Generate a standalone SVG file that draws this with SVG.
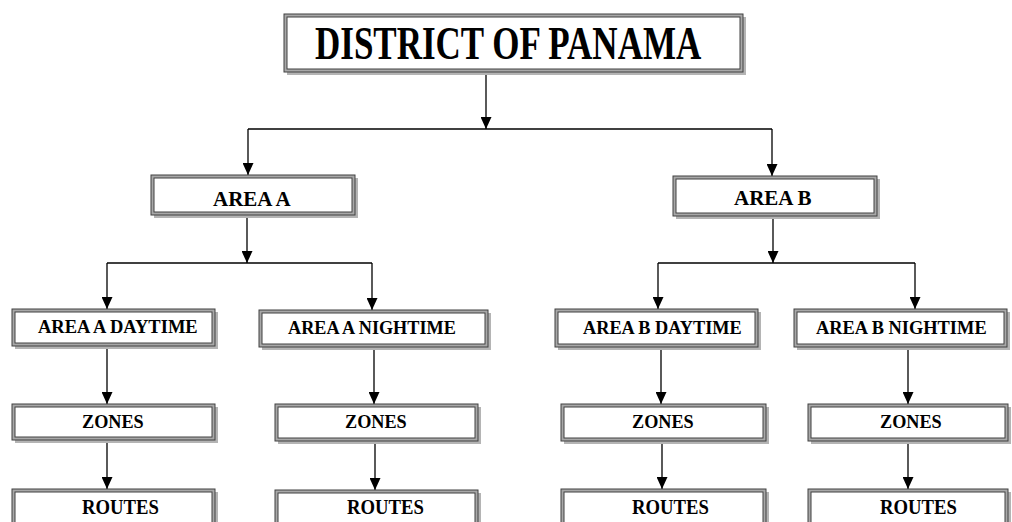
<svg xmlns="http://www.w3.org/2000/svg" width="1012" height="522" viewBox="0 0 1012 522">
<defs>
<style>
.sh{fill:#b4b4b4}
.fr{fill:#a8a8a8;stroke:#404040;stroke-width:1}
.in{fill:#ffffff;stroke:#404040;stroke-width:1}
.t{font-family:"Liberation Serif","Times New Roman",serif;font-weight:bold;fill:#000}
.c{fill:none;stroke:#000;stroke-width:1.3}
</style>
<marker id="ah" viewBox="0 0 12 12" refX="12" refY="6" markerWidth="12" markerHeight="11" markerUnits="userSpaceOnUse" orient="auto" preserveAspectRatio="none">
<path d="M0,0 L12,6 L0,12 z" fill="#000"/>
</marker>
</defs>
<rect width="1012" height="522" fill="#fff"/>

<g id="connectors">
<path class="c" d="M486,73 V129" marker-end="url(#ah)"/>
<path class="c" d="M248,129 H772"/>
<path class="c" d="M248,129 V175" marker-end="url(#ah)"/>
<path class="c" d="M772,129 V176" marker-end="url(#ah)"/>
<path class="c" d="M247,215 V263" marker-end="url(#ah)"/>
<path class="c" d="M107,263 H372"/>
<path class="c" d="M107,263 V309" marker-end="url(#ah)"/>
<path class="c" d="M372,263 V310" marker-end="url(#ah)"/>
<path class="c" d="M773,216 V263" marker-end="url(#ah)"/>
<path class="c" d="M658,263 H915"/>
<path class="c" d="M658,263 V309" marker-end="url(#ah)"/>
<path class="c" d="M915,263 V309" marker-end="url(#ah)"/>
<path class="c" d="M107,346 V404" marker-end="url(#ah)"/>
<path class="c" d="M374,347 V404" marker-end="url(#ah)"/>
<path class="c" d="M661,347 V404" marker-end="url(#ah)"/>
<path class="c" d="M908,347 V404" marker-end="url(#ah)"/>
<path class="c" d="M107,440 V489" marker-end="url(#ah)"/>
<path class="c" d="M375,441 V490" marker-end="url(#ah)"/>
<path class="c" d="M662,441 V489" marker-end="url(#ah)"/>
<path class="c" d="M908,441 V489" marker-end="url(#ah)"/>
</g>

<g id="district">
<rect class="sh" x="287" y="17" width="459" height="58"/>
<rect class="fr" x="284" y="14" width="459" height="58"/>
<rect class="in" x="287" y="17" width="453" height="52"/>
<text class="t" font-size="35" transform="translate(315,59) scale(1,1.3)">DISTRICT OF PANAMA</text>
</g>

<g id="area-a">
<rect class="sh" x="154" y="178" width="204" height="40"/>
<rect class="fr" x="151" y="175" width="204" height="40"/>
<rect class="in" x="154" y="178" width="198" height="34"/>
<text class="t" x="213" y="206" font-size="21">AREA A</text>
</g>

<g id="area-b">
<rect class="sh" x="676" y="179" width="204" height="40"/>
<rect class="fr" x="673" y="176" width="204" height="40"/>
<rect class="in" x="676" y="179" width="198" height="34"/>
<text class="t" x="734" y="205" font-size="21">AREA B</text>
</g>

<g id="area-a-daytime">
<rect class="sh" x="15" y="312" width="203" height="37"/>
<rect class="fr" x="12" y="309" width="203" height="37"/>
<rect class="in" x="15" y="312" width="197" height="31"/>
<text class="t" x="38" y="333" font-size="18.5">AREA A DAYTIME</text>
</g>

<g id="area-a-nightime">
<rect class="sh" x="262" y="313" width="229" height="37"/>
<rect class="fr" x="259" y="310" width="229" height="37"/>
<rect class="in" x="262" y="313" width="223" height="31"/>
<text class="t" x="288" y="334" font-size="18.2">AREA A NIGHTIME</text>
</g>

<g id="area-b-daytime">
<rect class="sh" x="558" y="312" width="203" height="38"/>
<rect class="fr" x="555" y="309" width="203" height="38"/>
<rect class="in" x="558" y="312" width="197" height="32"/>
<text class="t" x="583" y="334" font-size="18.3">AREA B DAYTIME</text>
</g>

<g id="area-b-nightime">
<rect class="sh" x="797" y="312" width="213" height="38"/>
<rect class="fr" x="794" y="309" width="213" height="38"/>
<rect class="in" x="797" y="312" width="207" height="32"/>
<text class="t" x="816" y="334" font-size="18.4">AREA B NIGHTIME</text>
</g>

<g id="zones-1">
<rect class="sh" x="15" y="407" width="203" height="36"/>
<rect class="fr" x="12" y="404" width="203" height="36"/>
<rect class="in" x="15" y="407" width="197" height="30"/>
<text class="t" x="82" y="428" font-size="18.2">ZONES</text>
</g>
<g id="zones-2">
<rect class="sh" x="278" y="407" width="203" height="37"/>
<rect class="fr" x="275" y="404" width="203" height="37"/>
<rect class="in" x="278" y="407" width="197" height="31"/>
<text class="t" x="345" y="428" font-size="18.2">ZONES</text>
</g>
<g id="zones-3">
<rect class="sh" x="564" y="407" width="205" height="37"/>
<rect class="fr" x="561" y="404" width="205" height="37"/>
<rect class="in" x="564" y="407" width="199" height="31"/>
<text class="t" x="632" y="428" font-size="18.2">ZONES</text>
</g>
<g id="zones-4">
<rect class="sh" x="811" y="407" width="200" height="37"/>
<rect class="fr" x="808" y="404" width="200" height="37"/>
<rect class="in" x="811" y="407" width="194" height="31"/>
<text class="t" x="880" y="428" font-size="18.2">ZONES</text>
</g>

<g id="routes-1">
<rect class="sh" x="15" y="492" width="203" height="40"/>
<rect class="fr" x="12" y="489" width="203" height="40"/>
<rect class="in" x="15" y="492" width="197" height="34"/>
<text class="t" font-size="18.7" transform="translate(82,514) scale(1,1.15)">ROUTES</text>
</g>
<g id="routes-2">
<rect class="sh" x="278" y="493" width="203" height="40"/>
<rect class="fr" x="275" y="490" width="203" height="40"/>
<rect class="in" x="278" y="493" width="197" height="34"/>
<text class="t" font-size="18.7" transform="translate(347,514) scale(1,1.15)">ROUTES</text>
</g>
<g id="routes-3">
<rect class="sh" x="564" y="492" width="205" height="40"/>
<rect class="fr" x="561" y="489" width="205" height="40"/>
<rect class="in" x="564" y="492" width="199" height="34"/>
<text class="t" font-size="18.7" transform="translate(632,514) scale(1,1.15)">ROUTES</text>
</g>
<g id="routes-4">
<rect class="sh" x="811" y="492" width="200" height="40"/>
<rect class="fr" x="808" y="489" width="200" height="40"/>
<rect class="in" x="811" y="492" width="194" height="34"/>
<text class="t" font-size="18.7" transform="translate(880,514) scale(1,1.15)">ROUTES</text>
</g>
</svg>
